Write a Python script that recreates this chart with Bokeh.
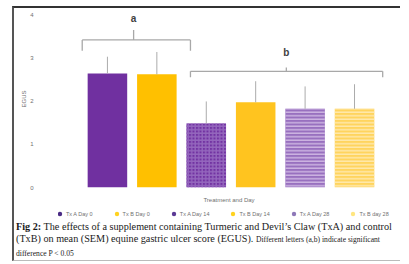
from bokeh.plotting import figure
from bokeh.models import Range1d, Legend, LegendItem, ColumnDataSource, FixedTicker, Div
from bokeh.layouts import column
from bokeh.embed import file_html
from bokeh.resources import INLINE
from bokeh.core.properties import value

# ---- data ----
groups = ["Tx A Day 0", "Tx B Day 0", "Tx A Day 14", "Tx B Day 14", "Tx A Day 28", "Tx B day 28"]
means = [2.65, 2.63, 1.49, 1.98, 1.83, 1.83]
upper = [3.04, 3.15, 2.00, 2.47, 2.35, 2.40]
y_ticks = [0, 1, 2, 3, 4]

letters = ["a", "b"]
bracket_start = [-0.51, 1.68]
bracket_end = [1.68, 5.57]
bracket_mid = [0.53, 3.62]
bracket_level = [3.43, 2.70]
bracket_drop = [3.18, 2.56]
bracket_peak = [3.66, 2.79]
letter_level = [3.93, 3.13]

# ---- styles ----
fill_colors = ["#7030A0", "#FFC000", "#7233A2", "#FFC41F", "#9870BF", "#FFD45E"]
hatch_patterns = [" ", " ", "+", " ", "-", "-"]
hatch_colors = ["#7030A0", "#FFC000", "#9466BD", "#FFC41F", "#CFB8E4", "#FFEAB0"]
legend_colors = ["#4B2C85", "#FFD21F", "#5B3A95", "#FFD21F", "#8E78B8", "#FFE680"]
GRAY = "#707070"

x = list(range(len(groups)))
src = ColumnDataSource(dict(x=x, mean=means, upper=upper, fill=fill_colors,
                            hatch=hatch_patterns, hcolor=hatch_colors, lcolor=legend_colors,
                            name=groups))

p = figure(width=386, height=197, output_backend="svg", toolbar_location=None,
           x_range=Range1d(-0.99, 5.91), y_range=Range1d(0, 4.114),
           min_border_left=44, min_border_right=1, min_border_top=2, min_border_bottom=0)
p.outline_line_color = None
p.grid.visible = False

p.vbar(x="x", top="mean", bottom=0, width=0.8, source=src, fill_color="fill",
       line_color=None, hatch_pattern="hatch", hatch_color="hcolor", hatch_scale=3.5,
       hatch_weight=1.4)
p.segment(x0="x", y0="mean", x1="x", y1="upper", source=src, line_color="#ABABAB", line_width=1)

# brackets
bsrc = ColumnDataSource(dict(s=bracket_start, e=bracket_end, m=bracket_mid, lv=bracket_level,
                             d=bracket_drop, pk=bracket_peak, ly=letter_level, t=letters))
bcol = "#A8A8A8"
p.segment(x0="s", y0="lv", x1="e", y1="lv", source=bsrc, line_color=bcol, line_width=1.3)
p.segment(x0="s", y0="lv", x1="s", y1="d", source=bsrc, line_color=bcol, line_width=1.3)
p.segment(x0="e", y0="lv", x1="e", y1="d", source=bsrc, line_color=bcol, line_width=1.3)
p.segment(x0="m", y0="lv", x1="m", y1="pk", source=bsrc, line_color=bcol, line_width=1.3)
p.text(x="m", y="ly", text="t", source=bsrc, text_font=value("Liberation Sans"),
       text_font_size="10px", text_font_style="bold", text_color="#404040",
       text_align="center", text_baseline="middle")

p.xaxis.ticker = FixedTicker(ticks=[])
p.xaxis.axis_line_color = None
p.xaxis.major_tick_line_color = None
p.xaxis.minor_tick_line_color = None
p.xaxis.axis_label = "Treatment and Day"
p.xaxis.axis_label_text_font_size = "6px"
p.xaxis.axis_label_text_font_style = "normal"
p.xaxis.axis_label_text_font = "Liberation Sans"
p.xaxis.axis_label_text_color = GRAY
p.xaxis.axis_label_standoff = 9

p.yaxis.ticker = FixedTicker(ticks=y_ticks)
p.yaxis.axis_line_color = None
p.yaxis.major_tick_line_color = None
p.yaxis.minor_tick_line_color = None
p.yaxis.major_label_text_font_size = "6px"
p.yaxis.major_label_text_color = GRAY
p.yaxis.major_label_text_font = "Liberation Sans"
p.yaxis.major_label_standoff = 19
p.yaxis.axis_label = "EGUS"
p.yaxis.axis_label_text_font_size = "6px"
p.yaxis.axis_label_text_font_style = "normal"
p.yaxis.axis_label_text_font = "Liberation Sans"
p.yaxis.axis_label_text_color = GRAY
p.yaxis.axis_label_standoff = 0

# legend strip (a small figure whose frame holds only the legend)
lg = figure(width=386, height=16, output_backend="svg", toolbar_location=None,
            x_range=Range1d(100, 101), y_range=Range1d(100, 101),
            x_axis_location=None, y_axis_location=None,
            min_border_left=0, min_border_right=0, min_border_top=0, min_border_bottom=0)
lg.grid.visible = False
lg.outline_line_color = None
lr = lg.scatter(x="x", y="mean", source=src, size=4, marker="circle", fill_color="lcolor",
                line_color=None)
items = [LegendItem(label=g, renderers=[lr], index=i) for i, g in enumerate(groups)]
leg = Legend(items=items, orientation="horizontal", location=(-4, 2),
             label_text_font_size="5.5px", label_text_color=GRAY,
             label_text_font="Liberation Sans", glyph_width=11, glyph_height=11,
             label_standoff=1, spacing=18, padding=0, margin=0,
             border_line_color=None, background_fill_alpha=0)
lg.add_layout(leg)

caption = Div(text=('<b>Fig 2:</b> The effects of a supplement containing Turmeric and Devil\u2019s '
                    'Claw (TxA) and control (TxB) on mean (SEM) equine gastric ulcer score (EGUS). '
                    '<span style="font-size:7.6px">Different letters (a,b) indicate significant '
                    'difference P &lt; 0.05</span>'),
              width=384, margin=(0, 0, 0, 2),
              styles={"font-family": "Liberation Serif", "font-size": "10.2px",
                      "line-height": "12.3px", "color": "#1a1a1a"})

layout = column(p, lg, caption, margin=(6, 0, 0, 12),
                styles={"border-left": "2px solid #555555",
                        "border-top": "2px solid #333333",
                        "border-bottom": "1px solid #bbbbbb"})
open("out.html", "w").write(file_html(layout, INLINE))
